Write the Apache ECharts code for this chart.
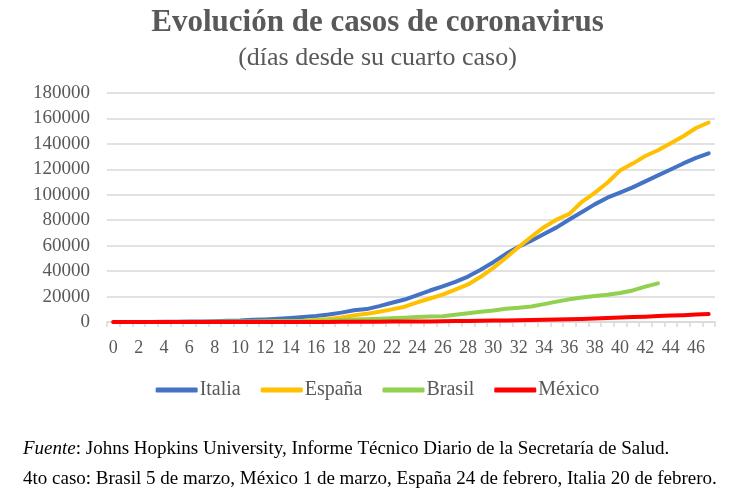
<!DOCTYPE html>
<html lang="es">
<head>
  <meta charset="UTF-8">
  <title>Evolución de casos de coronavirus</title>
  <script src="https://cdn.jsdelivr.net/npm/echarts@6/dist/echarts.min.js"></script>
  <style>
    html, body { margin: 0; padding: 0; background: #fff; }
    #chart { width: 755px; height: 497px; }
  </style>
</head>
<body>
<div id="chart"></div>
<script>
    // días desde el cuarto caso
    const dias = [];
    for (let d = 0; d <= 47; d++) dias.push(String(d));

    // casos acumulados por país
    const italia = [3, 3, 20, 62, 155, 229, 322, 453, 655, 888,
        1128, 1694, 2036, 2502, 3089, 3858, 4636, 5883, 7375, 9172,
        10149, 12462, 15113, 17660, 21157, 24747, 27980, 31506, 35713, 41035,
        47021, 53578, 59138, 63927, 69176, 74386, 80589, 86498, 92472, 97689,
        101739, 105792, 110574, 115242, 119827, 124632, 128948, 132547];

    const espana = [2, 3, 6, 13, 15, 32, 45, 84, 120, 165,
        222, 259, 400, 500, 673, 1073, 1695, 2277, 3500, 5200,
        6400, 8000, 9900, 12000, 15500, 18500, 21500, 25500, 29500, 35500,
        42500, 50500, 59000, 67000, 74500, 80500, 85000, 94500, 101500, 109500,
        119000, 124500, 130500, 135000, 140500, 146000, 152500, 156800];

    const brasil = [4, 8, 13, 19, 25, 25, 34, 52, 77, 151,
        151, 200, 234, 346, 529, 640, 970, 1178, 1546, 1924,
        2247, 2554, 2985, 3417, 3904, 4256, 4579, 5717, 6836, 8044,
        9056, 10360, 11130, 12161, 14034, 16000, 17800, 19200, 20500, 21500,
        22800, 24800, 27800, 30400];

    const mexico = [5, 5, 5, 5, 5, 6, 6, 7, 7, 7,
        8, 12, 12, 26, 41, 53, 82, 93, 118, 164,
        203, 251, 316, 367, 405, 475, 585, 717, 848, 993,
        1094, 1215, 1378, 1510, 1688, 1890, 2143, 2439, 2785, 3181,
        3441, 3844, 4219, 4661, 5014, 5399, 5847, 6297];

    const paises = ['Italia', 'España', 'Brasil', 'México'];
    const colores = ['#4472C4', '#FFC000', '#92D050', '#FF0000'];
    const valores = [italia, espana, brasil, mexico];

    const serif = '"Liberation Serif", "DejaVu Serif", serif';
    const gris = '#595959';

    const chart = echarts.init(document.getElementById('chart'));

    const options = {
        animation: false,
        textStyle: { fontFamily: serif },
        title: [
            {
                text: 'Evolución de casos de coronavirus',
                left: 'center',
                top: 2,
                textStyle: { fontFamily: serif, fontSize: 31, fontWeight: 'bold', color: gris }
            },
            {
                text: '(días desde su cuarto caso)',
                left: 'center',
                top: 40,
                textStyle: { fontFamily: serif, fontSize: 26, fontWeight: 'normal', color: gris }
            },
            {
                text: '{i|Fuente}: Johns Hopkins University, Informe Técnico Diario de la Secretaría de Salud.\n4to caso: Brasil 5 de marzo, México 1 de marzo, España 24 de febrero, Italia 20 de febrero.',
                left: 18,
                top: 429,
                textStyle: {
                    fontFamily: serif, fontSize: 19, fontWeight: 'normal', color: '#000',
                    lineHeight: 30,
                    rich: {
                        i: { fontFamily: serif, fontSize: 19, fontStyle: 'italic', color: '#000', lineHeight: 30 }
                    }
                }
            }
        ],
        legend: {
            data: paises,
            top: 375,
            left: 'center',
            icon: 'roundRect',
            itemWidth: 42,
            itemHeight: 5,
            itemGap: 20,
            textStyle: { fontFamily: serif, fontSize: 20, color: gris, padding: [0, 0, 0, -3] }
        },
        grid: {
            left: 107,
            right: 40,
            top: 93,
            bottom: 175
        },
        xAxis: {
            type: 'category',
            data: dias,
            boundaryGap: true,
            axisLine: { lineStyle: { color: '#d9d9d9', width: 1.5 } },
            axisTick: { show: true, interval: 0, length: 5, lineStyle: { color: '#d9d9d9', width: 1.5 } },
            axisLabel: { interval: 1, color: gris, fontSize: 18, margin: 17, fontFamily: serif }
        },
        yAxis: {
            type: 'value',
            min: 0,
            max: 180000,
            interval: 20000,
            axisLine: { show: false },
            axisTick: { show: false },
            axisLabel: {
                color: gris, fontSize: 19, margin: 17, fontFamily: serif,
                formatter: v => String(v)
            },
            splitLine: { lineStyle: { color: '#d9d9d9', width: 1.5 } }
        },
        series: paises.map((p, i) => ({
            name: p,
            type: 'line',
            data: valores[i],
            showSymbol: false,
            symbol: 'none',
            color: colores[i],
            lineStyle: { width: 4, color: colores[i], cap: 'round', join: 'round' }
        }))
    };

    chart.setOption(options);
</script>
</body>
</html>
